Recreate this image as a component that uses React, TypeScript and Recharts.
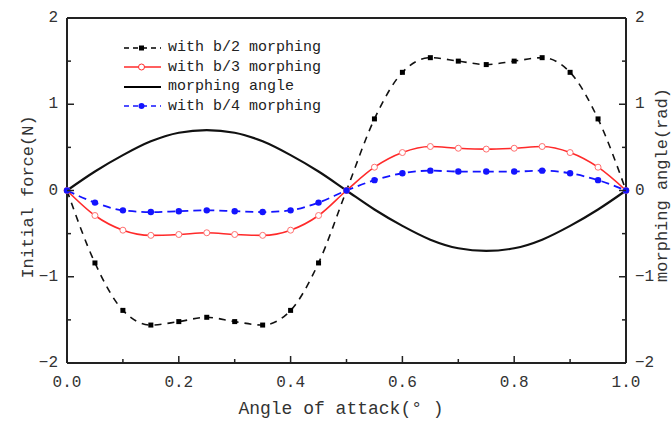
import { ComposedChart, Line, XAxis, YAxis, Legend, ReferenceLine } from "recharts";

const FONT = '"Liberation Mono", "DejaVu Sans Mono", monospace';
const AXIS = "#222";
const RED = "#ff2a2a";
const BLUE = "#1414ff";

// angle of attack samples
const attackAngle = [0, 0.05, 0.1, 0.15, 0.2, 0.25, 0.3, 0.35, 0.4, 0.45, 0.5, 0.55, 0.6, 0.65, 0.7, 0.75, 0.8, 0.85, 0.9, 0.95, 1.0];
const forceB2 = [0, -0.84, -1.39, -1.56, -1.52, -1.47, -1.52, -1.56, -1.39, -0.84, 0, 0.83, 1.37, 1.54, 1.5, 1.46, 1.5, 1.54, 1.37, 0.83, 0];
const forceB3 = [0, -0.29, -0.46, -0.52, -0.51, -0.49, -0.51, -0.52, -0.46, -0.29, 0, 0.27, 0.44, 0.51, 0.49, 0.48, 0.49, 0.51, 0.44, 0.27, 0];
const forceB4 = [0, -0.14, -0.23, -0.25, -0.24, -0.23, -0.24, -0.25, -0.23, -0.14, 0, 0.12, 0.2, 0.23, 0.22, 0.22, 0.22, 0.23, 0.2, 0.12, 0];
const morphAngle = [0, 0.22, 0.41, 0.57, 0.67, 0.7, 0.67, 0.57, 0.41, 0.22, 0, -0.22, -0.41, -0.57, -0.67, -0.7, -0.67, -0.57, -0.41, -0.22, 0];

const xTicks = [0, 0.1, 0.2, 0.3, 0.4, 0.5, 0.6, 0.7, 0.8, 0.9, 1.0];
const yTicks = [-2, -1.5, -1, -0.5, 0, 0.5, 1, 1.5, 2];

const legendItems = [
  { label: "with b/2 morphing", color: "#000", dash: "5 4", marker: "square" },
  { label: "with b/3 morphing", color: RED, dash: undefined, marker: "open" },
  { label: "morphing angle", color: "#000", dash: undefined, marker: "none" },
  { label: "with b/4 morphing", color: BLUE, dash: "5 4", marker: "dot" },
];

const data = attackAngle.map((x, i) => ({
  x,
  b2: forceB2[i],
  b3: forceB3[i],
  b4: forceB4[i],
  angle: morphAngle[i],
}));

const fmtY = (v: number) => (v < 0 ? `−${Math.abs(v)}` : `${v}`);

const LeftTick = ({ x, y, payload }: any) => {
  const v = payload.value;
  const major = Number.isInteger(v);
  return (
    <g>
      <line x1={x} x2={x + (major ? 7 : 4)} y1={y} y2={y} stroke={AXIS} strokeWidth={1.5} />
      {major && (
        <text x={x - 9} y={y} textAnchor="end" dominantBaseline="central" fontFamily={FONT} fontSize={16} fill="#333">
          {fmtY(v)}
        </text>
      )}
    </g>
  );
};

const RightTick = ({ x, y, payload }: any) => {
  const v = payload.value;
  const major = Number.isInteger(v);
  return (
    <g>
      <line x1={x} x2={x - (major ? 7 : 4)} y1={y} y2={y} stroke={AXIS} strokeWidth={1.5} />
      {major && (
        <text x={x + 9} y={y} textAnchor="start" dominantBaseline="central" fontFamily={FONT} fontSize={16} fill="#333">
          {fmtY(v)}
        </text>
      )}
    </g>
  );
};

const BottomTick = ({ x, y, payload }: any) => {
  const v = payload.value;
  const major = Math.round(v * 10) % 2 === 0;
  return (
    <g>
      <line x1={x} x2={x} y1={y} y2={y - (major ? 7 : 4)} stroke={AXIS} strokeWidth={1.5} />
      {major && (
        <text x={x} y={y + 20} textAnchor="middle" dominantBaseline="central" fontFamily={FONT} fontSize={16} fill="#333">
          {v.toFixed(1)}
        </text>
      )}
    </g>
  );
};

const SquareDot = ({ cx, cy, index }: any) => (
  <rect key={`sq-${index}`} x={cx - 2.5} y={cy - 2.5} width={5} height={5} fill="#000" />
);

const LegendMarker = ({ marker, color }: { marker: string; color: string }) => {
  if (marker === "square") return <rect x={17} y={3.5} width={5} height={5} fill={color} />;
  if (marker === "open") return <circle cx={19.5} cy={6} r={3} fill="#fff" stroke={color} strokeWidth={1} />;
  if (marker === "dot") return <circle cx={19.5} cy={6} r={3} fill={color} />;
  return null;
};

const LegendBox = () => (
  <div style={{ fontFamily: FONT, fontSize: 15, color: "#222", lineHeight: "19.5px" }}>
    {legendItems.map((it) => (
      <div key={it.label} style={{ display: "flex", alignItems: "center", height: 19.5 }}>
        <svg width={46} height={12}>
          <line x1={2} x2={39} y1={6} y2={6} stroke={it.color} strokeWidth={it.marker === "none" ? 2.2 : 1.6} strokeDasharray={it.dash} />
          <LegendMarker marker={it.marker} color={it.color} />
        </svg>
        <span style={{ whiteSpace: "nowrap" }}>{it.label}</span>
      </div>
    ))}
  </div>
);

const titleStyle: any = {
  position: "absolute",
  fontFamily: FONT,
  fontSize: 17,
  color: "#333",
  whiteSpace: "nowrap",
};

export default function App() {
  return (
    <div style={{ position: "absolute", left: 0, top: 0, width: 672, height: 421, background: "#fff", overflow: "hidden" }}>
      <ComposedChart width={672} height={421} data={data} margin={{ top: 18, right: 45, bottom: 57, left: 66 }}>
        <XAxis
          dataKey="x"
          type="number"
          domain={[0, 1]}
          ticks={xTicks}
          height={1}
          tickSize={0}
          tickMargin={0}
          tick={<BottomTick />}
          axisLine={{ stroke: AXIS, strokeWidth: 2 }}
          tickLine={false}
          interval={0}
        />
        <YAxis
          yAxisId="left"
          type="number"
          domain={[-2, 2]}
          ticks={yTicks}
          width={1}
          tickSize={0}
          tickMargin={0}
          tick={<LeftTick />}
          axisLine={{ stroke: AXIS, strokeWidth: 2 }}
          tickLine={false}
          interval={0}
        />
        <YAxis
          yAxisId="right"
          orientation="right"
          type="number"
          domain={[-2, 2]}
          ticks={yTicks}
          width={1}
          tickSize={0}
          tickMargin={0}
          tick={<RightTick />}
          axisLine={{ stroke: AXIS, strokeWidth: 2 }}
          tickLine={false}
          interval={0}
        />
        <ReferenceLine yAxisId="left" y={2} stroke={AXIS} strokeWidth={2} />
        <Line
          yAxisId="right"
          dataKey="angle"
          type="monotone"
          stroke="#111"
          strokeWidth={2.2}
          dot={false}
          isAnimationActive={false}
        />
        <Line
          yAxisId="left"
          dataKey="b2"
          type="monotone"
          stroke="#111"
          strokeWidth={1.6}
          strokeDasharray="7 6"
          dot={<SquareDot />}
          isAnimationActive={false}
        />
        <Line
          yAxisId="left"
          dataKey="b3"
          type="monotone"
          stroke={RED}
          strokeWidth={1.6}
          dot={{ r: 3, fill: "#fff", stroke: "#ff7070", strokeWidth: 1 }}
          isAnimationActive={false}
        />
        <Line
          yAxisId="left"
          dataKey="b4"
          type="monotone"
          stroke={BLUE}
          strokeWidth={1.8}
          strokeDasharray="8 5"
          dot={{ r: 3.2, fill: BLUE, stroke: BLUE, strokeWidth: 0 }}
          isAnimationActive={false}
        />
        <Legend
          layout="vertical"
          align="center"
          verticalAlign="middle"
          content={<LegendBox />}
          wrapperStyle={{ position: "absolute", left: 122, top: 38, width: "auto" }}
        />
      </ComposedChart>
      <div style={{ ...titleStyle, left: 28, top: 197, transform: "translate(-50%, -50%) rotate(-90deg)" }}>Initial force(N)</div>
      <div style={{ ...titleStyle, left: 341, top: 409, fontSize: 18, transform: "translate(-50%, -50%)" }}>Angle of attack(° )</div>
      <div style={{ ...titleStyle, left: 662, top: 185, transform: "translate(-50%, -50%) rotate(-90deg)" }}>morphing angle(rad)</div>
    </div>
  );
}
